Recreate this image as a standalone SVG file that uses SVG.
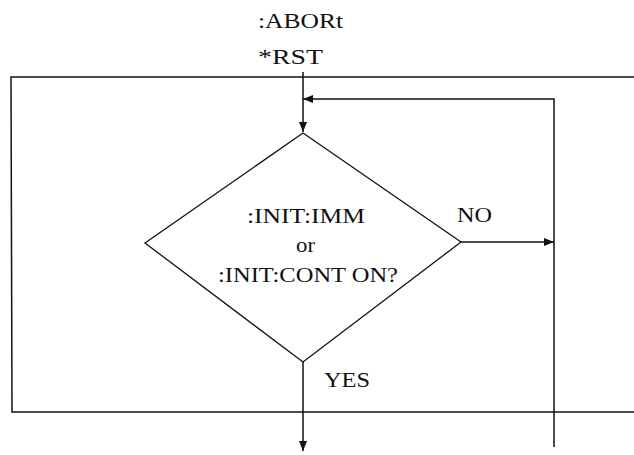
<svg xmlns="http://www.w3.org/2000/svg" width="634" height="455" viewBox="0 0 634 455">
  <style>
    .ln { fill: none; stroke: #111; stroke-width: 1.5; }
    .shape { fill: #fff; stroke: #111; stroke-width: 1.3; }
    .t { font-family: "Liberation Serif", "Times New Roman", serif; fill: #111; }
  </style>
  <defs>
    <marker id="arr" markerUnits="userSpaceOnUse" markerWidth="10" markerHeight="8" refX="10" refY="4" orient="auto">
      <path d="M0,0 L10,4 L0,8 z" fill="#111"/>
    </marker>
  </defs>
  <rect width="634" height="455" fill="#fff"/>

  <g id="frame">
    <polyline class="ln" points="634,77 11,77 12,412 634,412"/>
  </g>

  <g id="start">
    <text class="t" x="258" y="28" font-size="21" textLength="85" lengthAdjust="spacingAndGlyphs">:ABORt</text>
    <text class="t" x="258" y="64" font-size="21" textLength="65" lengthAdjust="spacingAndGlyphs">*RST</text>
  </g>

  <g id="decision">
    <polygon class="shape" points="303,133 461,242 303,362 145,243"/>
    <text class="t" x="247" y="223" font-size="20" textLength="118" lengthAdjust="spacingAndGlyphs">:INIT:IMM</text>
    <text class="t" x="296" y="252" font-size="20" textLength="19" lengthAdjust="spacingAndGlyphs">or</text>
    <text class="t" x="218" y="282" font-size="20" textLength="180" lengthAdjust="spacingAndGlyphs">:INIT:CONT ON?</text>
  </g>

  <g id="connectors">
    <line class="ln" x1="303" y1="72" x2="303" y2="132" marker-end="url(#arr)"/>
    <polyline class="ln" points="554,447 554,99 303,99" marker-end="url(#arr)"/>
    <line class="ln" x1="461" y1="242" x2="554" y2="242" marker-end="url(#arr)"/>
    <line class="ln" x1="303" y1="362" x2="303" y2="451" marker-end="url(#arr)"/>
  </g>

  <g id="labels">
    <text class="t" x="457" y="222" font-size="22" textLength="35" lengthAdjust="spacingAndGlyphs">NO</text>
    <text class="t" x="324" y="387" font-size="22" textLength="46" lengthAdjust="spacingAndGlyphs">YES</text>
  </g>
</svg>
